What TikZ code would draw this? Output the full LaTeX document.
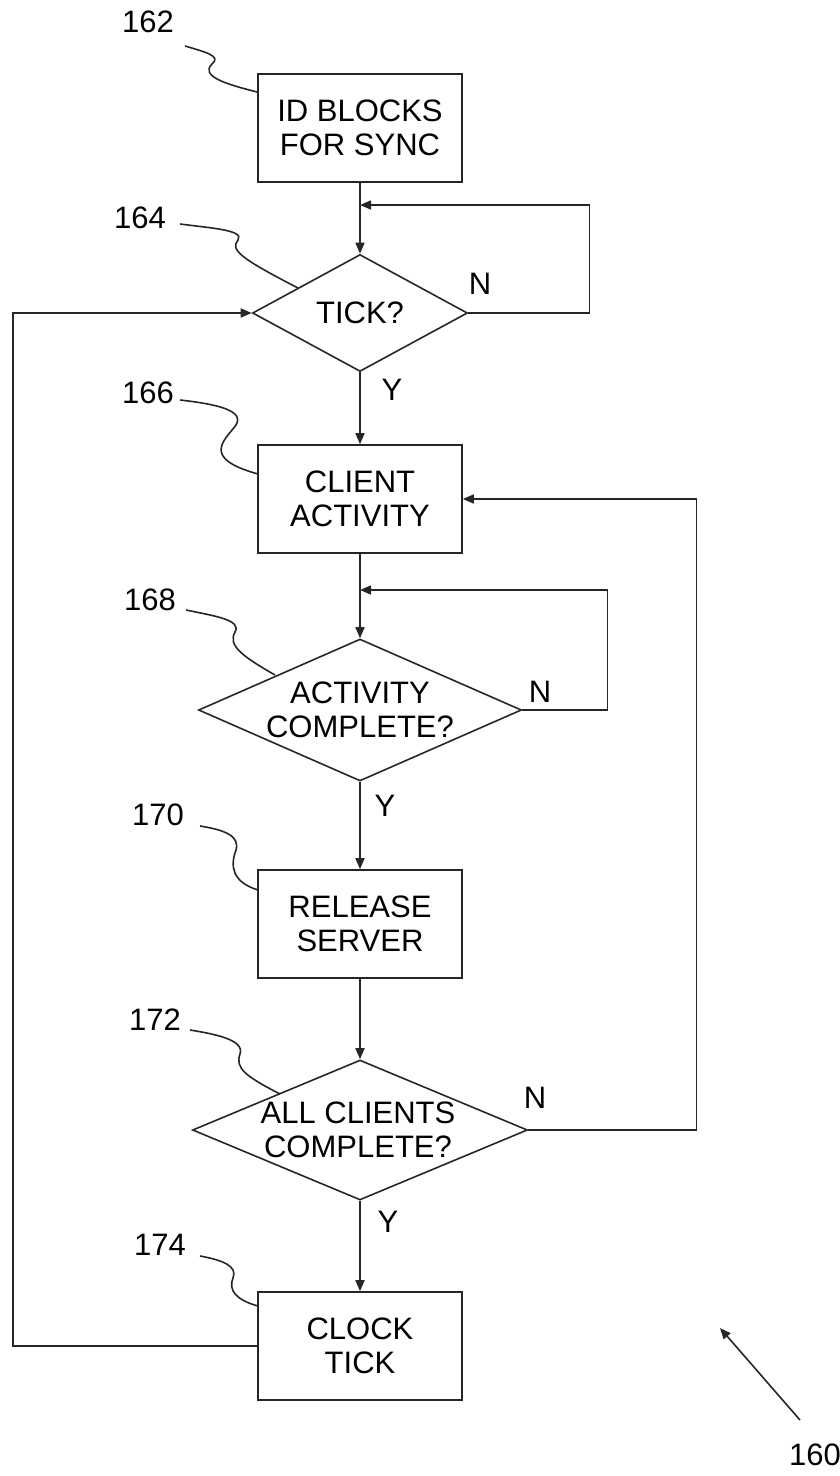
\documentclass[tikz,border=0pt]{standalone}
\usepackage{fontspec}
\setmainfont{Liberation Sans}
\usetikzlibrary{shapes.geometric,arrows.meta}
\begin{document}
\begin{tikzpicture}[x=1pt,y=-1pt,
  every node/.style={font=\fontsize{31}{34}\selectfont},
  ln/.style={line width=1.6pt,draw=black!85},
  arr/.style={ln,-{Triangle[length=11pt,width=9pt]}},
  stepbox/.style={draw=black!85,line width=1.6pt,rectangle,minimum width=204pt,minimum height=108pt,inner sep=0pt,align=center},
  decis/.style={draw=black!85,line width=1.6pt,diamond,inner sep=0pt,minimum width=#1},
  txt/.style={align=center,inner sep=0pt}
]
\useasboundingbox (0,0) rectangle (840,1476);

% nodes
\node[stepbox] (b162) at (360,128) {ID BLOCKS\\FOR SYNC};
\node[decis=215pt,minimum height=117pt] (d164) at (360,313) {};
\node[txt] (t164) at (d164) {TICK?};
\node[stepbox] (b166) at (360,499) {CLIENT\\ACTIVITY};
\node[decis=323pt,minimum height=142pt] (d168) at (360,710) {};
\node[txt] (t168) at (360,710) {ACTIVITY\\COMPLETE?};
\node[stepbox] (b170) at (360,924) {RELEASE\\SERVER};
\node[decis=335pt,minimum height=140pt] (d172) at (360,1130) {};
\node[txt] (t172) at (358,1130) {ALL CLIENTS\\COMPLETE?};
\node[stepbox] (b174) at (360,1346) {CLOCK\\TICK};

\coordinate (j1) at (360,205);
\coordinate (j2) at (360,590);

% connectors
\draw[arr] (b162.south) -- (d164.north);
\draw[arr] (d164.east) -- ++(121,0) |- (j1);
\draw[arr] (d164.south) -- (b166.north);
\draw[arr] (b166.south) -- (d168.north);
\draw[arr] (d168.east) -- ++(85,0) |- (j2);
\draw[arr] (d168.south) -- (b170.north);
\draw[arr] (b170.south) -- (d172.north);
\draw[arr] (d172.east) -- ++(168,0) |- (b166.east);
\draw[arr] (d172.south) -- (b174.north);
\draw[arr] (b174.west) -- ++(-244,0) |- (d164.west);

% Y / N labels
\node (n164) at (480,284) {N};
\node (y164) at (392,390) {Y};
\node (n168) at (540,692) {N};
\node (y168) at (385,806) {Y};
\node (n172) at (535,1098) {N};
\node (y172) at (388,1222) {Y};

% reference numerals
\node (r162) at (148,22) {162};
\node (r164) at (140,218) {164};
\node (r166) at (148,393) {166};
\node (r168) at (150,600) {168};
\node (r170) at (158,815) {170};
\node (r172) at (155,1020) {172};
\node (r174) at (160,1245) {174};
\node (r160) at (815,1455) {160};

% leader squiggles
\draw[ln] (185,46) .. controls (205,52) and (222,56) .. (212,64) .. controls (200,76) and (225,84) .. (b162.west |- 0,92);
\draw[ln] (180,224) .. controls (210,228) and (245,230) .. (238,240) .. controls (230,250) and (240,258) .. (298,288);
\draw[ln] (180,400) .. controls (215,404) and (245,410) .. (236,425) .. controls (225,440) and (200,458) .. (258,474);
\draw[ln] (186,610) .. controls (215,616) and (242,620) .. (235,632) .. controls (228,645) and (240,655) .. (275,675);
\draw[ln] (200,826) .. controls (225,830) and (240,836) .. (236,850) .. controls (230,866) and (232,882) .. (258,890);
\draw[ln] (190,1030) .. controls (215,1034) and (245,1040) .. (240,1054) .. controls (235,1068) and (245,1076) .. (280,1094);
\draw[ln] (200,1256) .. controls (222,1260) and (238,1266) .. (233,1278) .. controls (228,1290) and (236,1300) .. (258,1306);

% overall arrow 160
\coordinate (a160) at (800,1420);
\draw[arr] (a160) -- (720,1328);
\end{tikzpicture}
\end{document}
